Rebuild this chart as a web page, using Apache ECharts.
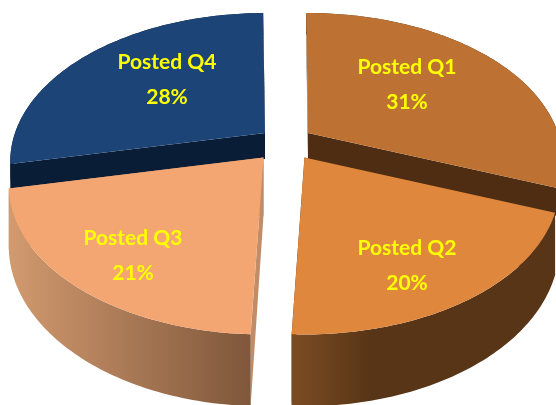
<!DOCTYPE html>
<html>
<head>
<meta charset="utf-8">
<style>
  html, body { margin: 0; padding: 0; background: #fff; }
  #pie { width: 556px; height: 405px; filter: blur(0.6px); }
</style>
<script src="https://cdn.jsdelivr.net/npm/echarts@6/dist/echarts.min.js"></script>
</head>
<body>
<div id="pie"></div>
<script>
// chart data, slice sizes (labels show them rounded)
const categories = ['Posted Q1', 'Posted Q2', 'Posted Q3', 'Posted Q4'];
const shares = [31, 19.8, 21, 28.2];

// look of each slice, same order as categories
const tips = [[308, 133], [304.5, 157.5], [263.5, 157.5], [265, 133]];
const labelPos = [[407, 85], [407, 266], [133, 256], [167, 80]];
const topColors = ['#bd7233', '#e0873e', '#f4a672', '#1d4477'];
const cutColors = ['#4e2d12', '#4e2d12', '#c08d68', '#0a1d36'];
const wallColors = [
  ['#4e2d12', '#4e2d12'],
  ['#7c4c24', '#583516'],
  ['#d29a6f', '#7f573b'],
  ['#0a1d36', '#0a1d36']
];
const depths = [26, 58, 58, 26]; // back slices only show a strip above the front ones
const drawOrder = [1, 3, 2, 0];

// the disc seen in perspective
const rx = 250, ry = 143, tilt = 0.192, startAngle = -0.5;

function project(deg, r, depth) {
  const a = deg * Math.PI / 180;
  const u = Math.sin(a) * r, v = -Math.cos(a) * r;
  const w = 1 - tilt * v;
  return { x: rx * u / w, y: ry * v / w, d: depth / w };
}

function arcPoints(tip, from, to, depth, lower) {
  const pts = [];
  const n = Math.ceil(Math.abs(to - from));
  for (let i = 0; i <= n; i++) {
    const p = project(from + (to - from) * i / n, 1, depth);
    pts.push([tip[0] + p.x, tip[1] + p.y + (lower ? p.d : 0)]);
  }
  return pts;
}

function cutFace(tip, deg, depth) {
  const c = project(deg, 0, depth), p = project(deg, 1, depth);
  return [
    [tip[0], tip[1]],
    [tip[0] + p.x, tip[1] + p.y],
    [tip[0] + p.x, tip[1] + p.y + p.d],
    [tip[0], tip[1] + c.d]
  ];
}

function renderSlice(params, api) {
  const i = params.dataIndex;
  const total = shares.reduce((a, b) => a + b, 0);
  const before = shares.slice(0, i).reduce((a, b) => a + b, 0);
  const from = startAngle + before / total * 360;
  const to = from + api.value(0) / total * 360;
  const tip = tips[i];
  const depth = depths[i];
  const z = drawOrder[i] * 10;
  const top = arcPoints(tip, from, to, depth, false);
  const wall = top.concat(arcPoints(tip, from, to, depth, true).reverse());
  const poly = (points, fill, z2) => ({
    type: 'polygon', z2: z + z2, silent: true,
    shape: { points: points }, style: { fill: fill }
  });
  return {
    type: 'group',
    children: [
      poly(cutFace(tip, from, depth), cutColors[i], 1),
      poly(cutFace(tip, to, depth), cutColors[i], 1),
      poly(wall, new echarts.graphic.LinearGradient(0, 0, 1, 0, [
        { offset: 0, color: wallColors[i][0] },
        { offset: i === 1 ? 0.3 : 1, color: wallColors[i][1] },
        { offset: 1, color: wallColors[i][1] }
      ]), 2),
      poly([tip].concat(top), topColors[i], 3),
      {
        type: 'text', z2: 100, silent: true,
        style: {
          x: labelPos[i][0], y: labelPos[i][1],
          text: categories[i] + '\n' + Math.round(api.value(0)) + '%',
          fill: '#ffff00',
          font: 'bold 21px Lato, "Open Sans", sans-serif',
          lineHeight: 35, align: 'center', verticalAlign: 'middle'
        }
      }
    ]
  };
}

const myChart = echarts.init(document.getElementById('pie'));
myChart.setOption({
  animation: false,
  backgroundColor: '#fff',
  series: [{
    type: 'custom',
    coordinateSystem: 'none',
    clip: false,
    renderItem: renderSlice,
    data: shares.map((v) => [v])
  }]
});
</script>
</body>
</html>
